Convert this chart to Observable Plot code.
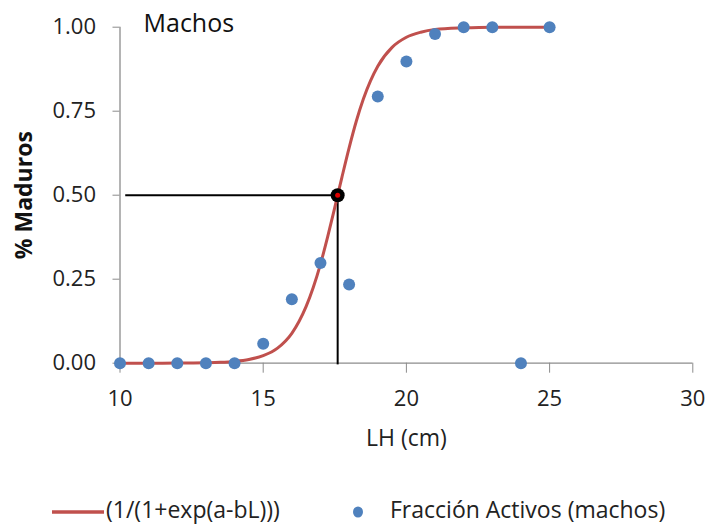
<!DOCTYPE html>
<html>
<head>
<meta charset="utf-8">
<script src="https://cdn.jsdelivr.net/npm/d3@7"></script>
<script src="https://cdn.jsdelivr.net/npm/@observablehq/plot@0.6"></script>
<style>
  html, body { margin: 0; padding: 0; background: #fff; }
  #wrap { width: 709px; position: relative; font-family: "Open Sans", sans-serif; }
  #legend { position: relative; height: 57px; }
  .lg { position: absolute; font-size: 23px; color: #222; white-space: nowrap; line-height: 1; }
</style>
</head>
<body>
<div id="wrap">
  <div id="chart"></div>
  <div id="legend"></div>
</div>
<script>
// Observed maturity fraction (points)
const lengthCm = [10, 11, 12, 13, 14, 15, 16, 17, 18, 19, 20, 21, 22, 23, 24, 25];
const fractionActive = [0, 0, 0, 0, 0, 0.058, 0.19, 0.298, 0.234, 0.794, 0.898, 0.98, 1.0, 1.0, 0, 1.0];

// Fitted logistic curve
const curveX = [10, 11, 12, 13, 13.5, 14, 14.5, 15, 15.5, 16, 16.25, 16.5, 16.75, 17, 17.25, 17.5, 17.75, 18, 18.25, 18.5, 18.75, 19, 19.5, 20, 20.5, 21, 22, 23, 24, 25];
const curveY = [0.0, 0.0001, 0.0003, 0.0013, 0.0026, 0.0054, 0.011, 0.0225, 0.045, 0.089, 0.124, 0.169, 0.226, 0.295, 0.376, 0.464, 0.554, 0.641, 0.72, 0.787, 0.841, 0.884, 0.94, 0.97, 0.985, 0.993, 0.998, 1.0, 1.0, 1.0];

// L50 marker
const l50X = [17.6];
const l50Y = [0.5];
const guideStartX = [10.2];

const xTicks = [10, 15, 20, 25, 30];
const yTicks = [0, 0.25, 0.5, 0.75, 1];

const titleText = "Machos";
const xLabel = "LH (cm)";
const yLabel = "% Maduros";
const legendCurve = "(1/(1+exp(a-bL)))";
const legendPoints = "Fracción Activos (machos)";

const axisGray = "#8c8c8c";
const red = "#C0504D";
const blue = "#4F81BD";

const pts = lengthCm.map((x, i) => ({x, y: fractionActive[i]}));
const curve = curveX.map((x, i) => ({x, y: curveY[i]}));
const l50 = l50X.map((x, i) => ({x, y: l50Y[i], x0: guideStartX[i]}));

const plot = Plot.plot({
  width: 709,
  height: 470,
  marginLeft: 119.5,
  marginRight: 16.7,
  marginTop: 26.7,
  marginBottom: 107.3,
  style: {fontFamily: "Open Sans, sans-serif", background: "#fff"},
  x: {domain: [10, 30]},
  y: {domain: [0, 1]},
  marks: [
    Plot.ruleX([10], {stroke: axisGray, strokeWidth: 1.3}),
    Plot.ruleY([0], {stroke: axisGray, strokeWidth: 1.3}),
    Plot.axisX({ticks: xTicks, tickSize: 10, tickPadding: 17, stroke: axisGray, fontSize: 22, fill: "#222", label: null, tickFormat: d3.format("d")}),
    Plot.axisY({ticks: yTicks, tickSize: 7, tickPadding: 17, stroke: axisGray, fontSize: 22, fill: "#222", label: null, tickFormat: d3.format(".2f")}),
    Plot.text([xLabel], {frameAnchor: "bottom", dy: 75, lineAnchor: "middle", fontSize: 23, fill: "#222"}),
    Plot.text([yLabel], {frameAnchor: "left", textAnchor: "middle", dx: -95.5, rotate: -90, fontSize: 23, fontWeight: "bold", fill: "#111"}),
    Plot.text([titleText], {frameAnchor: "top-left", dx: 23.5, dy: -3, textAnchor: "start", lineAnchor: "middle", fontSize: 25, fill: "#111"}),
    Plot.ruleY(l50, {y: "y", x1: "x0", x2: "x", stroke: "#000", strokeWidth: 2}),
    Plot.ruleX(l50, {x: "x", y1: -0.005, y2: "y", stroke: "#000", strokeWidth: 2}),
    Plot.line(curve, {x: "x", y: "y", stroke: red, strokeWidth: 3, curve: "monotone-x"}),
    Plot.dot(pts, {x: "x", y: "y", r: 6, fill: blue, stroke: "none"}),
    Plot.dot(l50, {x: "x", y: "y", r: 7, fill: "#000", stroke: "none"}),
    Plot.dot(l50, {x: "x", y: "y", r: 2.5, fill: "#e00000", stroke: "none"})
  ]
});
document.getElementById("chart").appendChild(plot);

const lg = document.getElementById("legend");
lg.innerHTML = `
  <svg width="709" height="57" style="position:absolute;left:0;top:0">
    <line x1="52" x2="104" y1="42" y2="42" stroke="${red}" stroke-width="3.5"></line>
    <ellipse cx="358" cy="42" rx="5" ry="5.5" fill="${blue}"></ellipse>
  </svg>
  <div class="lg" style="left:106px; top:28px">${legendCurve}</div>
  <div class="lg" style="left:390px; top:28px">${legendPoints}</div>
`;
</script>
</body>
</html>
